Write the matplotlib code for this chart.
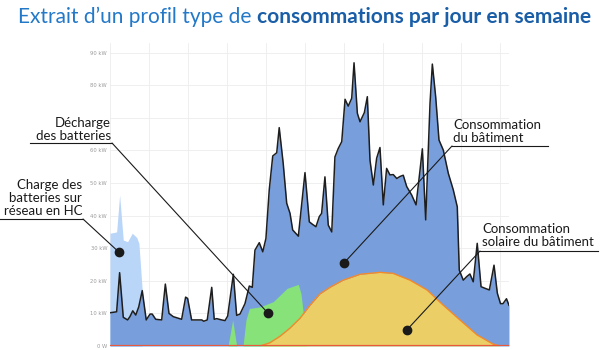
import numpy as np
import matplotlib
matplotlib.use("Agg")
from matplotlib import pyplot as plt
from matplotlib.lines import Line2D

# building consumption (kW) vs hour
conso_hours = [0.00, 0.40, 0.58, 0.80, 1.06, 1.20, 1.37, 1.55, 1.73, 1.94, 2.18, 2.41,
               2.54, 2.75, 3.11, 3.33, 3.55, 3.81, 4.31, 4.55, 4.67, 4.91, 5.52, 5.64,
               5.85, 6.12, 6.27, 6.42, 6.72, 6.92, 7.08, 7.42, 7.62, 7.82, 8.12, 8.38,
               8.56, 8.72, 8.98, 9.19, 9.38, 9.58, 9.79, 10.03, 10.18, 10.42, 10.63, 10.83,
               10.99, 11.33, 11.73, 11.99, 12.19, 12.39, 12.59, 12.73, 12.93, 13.13, 13.34,
               13.53, 13.73, 13.94, 14.14, 14.33, 14.54, 14.68, 14.88, 15.04, 15.30, 15.48,
               15.64, 15.84, 16.04, 16.24, 16.44, 16.64, 16.84, 17.04, 17.25, 17.44, 17.64,
               17.85, 18.15, 18.41, 18.65, 18.79, 18.99, 19.25, 19.39, 19.59, 19.79, 20.05,
               20.35, 20.65, 20.89, 21.01, 21.25, 21.46, 21.65, 21.85, 22.09, 22.32, 22.56,
               22.82, 23.10, 23.30, 23.49, 23.64, 23.85, 24.00]
conso_kw = [10.2, 10.5, 22.5, 8.8, 8.0, 9.0, 10.8, 9.5, 12.0, 17.0, 8.0, 9.8,
            9.8, 8.2, 8.0, 19.0, 10.0, 9.0, 8.2, 15.0, 14.6, 8.0, 8.0, 7.6,
            8.0, 18.0, 8.2, 8.4, 8.0, 7.8, 9.2, 22.0, 9.4, 9.8, 13.0, 18.4,
            18.0, 29.4, 31.7, 28.9, 33.0, 47.9, 58.3, 59.3, 67.0, 56.0, 43.8, 40.7,
            35.6, 33.7, 53.2, 38.1, 37.3, 36.6, 39.7, 40.7, 51.9, 37.1, 35.0,
            58.0, 60.6, 62.7, 75.7, 73.6, 76.0, 86.9, 71.4, 68.8, 71.6, 76.5,
            57.0, 49.4, 57.6, 60.9, 43.3, 54.5, 52.5, 52.6, 51.4, 52.0, 52.4,
            48.9, 46.3, 43.3, 54.0, 60.5, 38.7, 74.4, 86.5, 76.5, 63.2, 60.1,
            53.0, 47.9, 42.7, 23.3, 20.2, 21.3, 22.1, 19.7, 31.5, 18.2, 17.7,
            17.2, 24.8, 16.2, 13.0, 13.0, 14.5, 12.5]

# grid draw incl. battery charging during off-peak hours (HC)
charge_hours = [0.00, 0.40, 0.58, 0.80, 1.06, 1.34, 1.61, 1.74, 1.94]
charge_kw = [34.6, 35.0, 46.3, 32.5, 32.0, 34.6, 33.3, 31.5, 17.0]

# solar + battery discharge (top of green area)
discharge_hours = [7.10, 7.38, 7.62, 8.00, 8.18, 8.38, 9.02, 9.82, 10.65, 11.33, 11.49, 11.64, 11.80]
discharge_kw = [0.0, 8.0, 0.0, 0.0, 8.0, 11.5, 12.0, 13.6, 17.7, 18.9, 16.0, 9.5, 0.0]

# solar self-consumption
solar_hours = [9.02, 9.62, 10.23, 10.83, 11.43, 12.03, 12.63, 13.23, 14.02, 15.04,
               16.24, 17.02, 18.05, 19.07, 20.03, 21.05, 22.08, 23.04, 23.46]
solar_kw = [0.0, 1.0, 3.0, 5.5, 8.5, 12.5, 16.0, 18.0, 20.2, 22.0,
            22.6, 22.3, 20.2, 17.2, 12.6, 8.0, 3.4, 0.6, 0.0]

y_ticks = [0, 10, 20, 30, 40, 50, 60, 70, 80, 90]
# 70 kW sits behind the "Décharge" label in the original
y_labels = ["0 W", "10 kW", "20 kW", "30 kW", "40 kW", "50 kW", "60 kW", "", "80 kW", "90 kW"]

TEXT_FONT = ["Lato", "DejaVu Sans"]


def make_chart():
    fig = plt.figure(figsize=(6, 3.5), dpi=100)
    ax = fig.add_axes([0.1833, 0.0114, 0.665, 0.866])

    ax.fill_between(charge_hours, 0, charge_kw, color="#b9d5f8", lw=0, zorder=2)
    ax.fill_between(conso_hours, 0, conso_kw, color="#789fdc", lw=0, zorder=3)
    ax.plot(conso_hours, conso_kw, color="#1e1e1e", lw=1.1, zorder=6)
    ax.fill_between(discharge_hours, 0, discharge_kw, color="#86e279", lw=0, zorder=4)
    ax.fill_between(solar_hours, 0, solar_kw, color="#ebcf66", lw=0, zorder=5)
    ax.plot(solar_hours, solar_kw, color="#f5892a", lw=1.0, zorder=5)
    ax.axhline(0, color="#ea5a3a", lw=1.6, zorder=7)

    ax.set_xlim(0, 24)
    ax.set_ylim(0, 93)
    ax.set_yticks(y_ticks)
    ax.set_yticklabels(y_labels, fontsize=3.8, color="#9a9a9a")
    ax.set_xticks(np.arange(0, 24, 24 * 39 / 399.0))
    ax.set_xticklabels([])
    ax.tick_params(length=0, pad=2)
    ax.grid(True, color="#ededed", lw=0.6, zorder=0)
    ax.set_axisbelow(True)
    for s in ax.spines.values():
        s.set_visible(False)

    # title: regular part then bold part right after it
    renderer = fig.canvas.get_renderer()
    t1 = fig.text(0.03, 0.951, "Extrait d\u2019un profil type de ", fontsize=15,
                  color="#2378c8", va="center", ha="left", family=TEXT_FONT)
    bb = t1.get_window_extent(renderer)
    fig.text(bb.x1 / fig.bbox.width, 0.951, "consommations par jour en semaine",
             fontsize=15, color="#1a5ea8", fontweight="bold", va="center",
             ha="left", family=TEXT_FONT)

    # annotations: text, text anchor px, alignment, underline px, dot in data
    notes = [
        ("D\u00e9charge\ndes batteries", (111, 142), "right", (30, 112, 143), (9.50, 10.1), 112),
        ("Charge des\nbatteries sur\nr\u00e9seau en HC", (82, 217), "right", (0, 83, 219), (0.54, 28.8), 83),
        ("Consommation\ndu b\u00e2timent", (453, 144), "left", (452, 548, 146), (14.08, 25.5), 452),
        ("Consommation\nsolaire du b\u00e2timent", (482, 248), "left", (480, 598, 251), (17.85, 4.9), 480),
    ]
    H = 350.0
    W = 600.0
    for txt, (tx, ty), ha, (ux0, ux1, uy), dot, lx in notes:
        fig.text(tx / W, 1 - ty / H, txt, fontsize=9.5, color="#1a1a1a", ha=ha,
                 va="bottom", multialignment=ha, linespacing=1.1, family=TEXT_FONT,
                 zorder=10)
        fig.add_artist(Line2D([ux0 / W, ux1 / W], [1 - uy / H, 1 - uy / H],
                              color="#1a1a1a", lw=0.8, zorder=10))
        ax.annotate("", xy=dot, xycoords="data", xytext=(lx / W, 1 - uy / H),
                    textcoords="figure fraction", annotation_clip=False,
                    arrowprops=dict(arrowstyle="-", color="#1a1a1a", lw=0.8,
                                    shrinkA=0, shrinkB=0), zorder=9)
        ax.plot(dot[0], dot[1], "o", color="#1a1a1a", ms=6, zorder=11, clip_on=False)

    fig.savefig("out.png", dpi=100)


if __name__ == "__main__":
    make_chart()
